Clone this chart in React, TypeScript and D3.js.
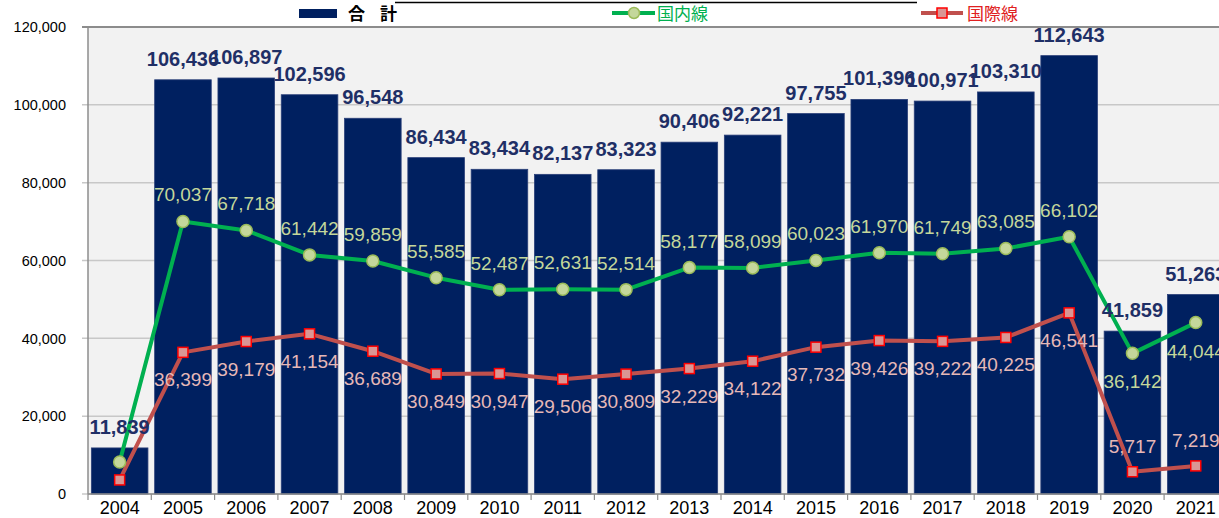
import React from "react";
import * as d3 from "d3";

const years = ["2004","2005","2006","2007","2008","2009","2010","2011","2012","2013","2014","2015","2016","2017","2018","2019","2020","2021"];
const totals = [11839,106436,106897,102596,96548,86434,83434,82137,83323,90406,92221,97755,101396,100971,103310,112643,41859,51263];
const domestic = [8226,70037,67718,61442,59859,55585,52487,52631,52514,58177,58099,60023,61970,61749,63085,66102,36142,44044];
const international = [3613,36399,39179,41154,36689,30849,30947,29506,30809,32229,34122,37732,39426,39222,40225,46541,5717,7219];
const yTicks = [0,20000,40000,60000,80000,100000,120000];
// label placement: "a" above, "b" below, "" none
const domPos = ["","a","a","a","a","a","a","a","a","a","a","a","a","a","a","a","b","b"];
const intPos = ["","b","b","b","b","b","b","b","b","b","b","b","b","b","b","b","a","a"];

const W = 1219, H = 518;
const left = 88, top = 27, bottom = 494;
const step = 63.3;

export default function App() {
  const x = d3.scaleBand<string>().domain(years).range([left, left + step * years.length]).paddingInner(0.106).paddingOuter(0.053);
  const y = d3.scaleLinear().domain([0, 120000]).range([bottom, top]);
  const fmt = d3.format(",");
  const cx = (i: number) => (x(years[i]) as number) + x.bandwidth() / 2;
  const lineGen = d3.line<number>().x((_, i) => cx(i)).y(d => y(d));
  const font = "'Liberation Sans', Arial, sans-serif";
  const jp = "'Noto Sans CJK JP', sans-serif";
  const boundaries = d3.range(years.length + 1).map(i => left + i * step);

  return (
    <svg width={W} height={H} style={{ position: "absolute", left: 0, top: 0, background: "#fff" }} fontFamily={font}>
      {/* title underline remnant */}
      <line x1={395} x2={917} y1={2.5} y2={2.5} stroke="#000" strokeWidth={1.5} />
      {/* plot background */}
      <rect x={left} y={top} width={W - left + 20} height={bottom - top} fill="#f2f2f2" />
      {yTicks.map(t => (
        <g key={t}>
          <line x1={left - 6} x2={W + 10} y1={y(t)} y2={y(t)} stroke={t === 120000 ? "#8c8c8c" : "#c8c8c8"} strokeWidth={t === 120000 ? 2 : 1.5} />
          <text x={66} y={y(t)} dy="0.36em" textAnchor="end" fontSize={14.5} fill="#000">{fmt(t)}</text>
        </g>
      ))}
      {/* bars */}
      {totals.map((v, i) => (
        <rect key={i} x={x(years[i])} y={y(v)} width={x.bandwidth()} height={bottom - y(v)} fill="#002060" stroke="#2a3f78" strokeWidth={0.8} />
      ))}
      {/* axes */}
      <line x1={left} x2={left} y1={top} y2={bottom} stroke="#8c8c8c" strokeWidth={1.5} />
      <line x1={left} x2={W + 10} y1={bottom} y2={bottom} stroke="#8c8c8c" strokeWidth={1.5} />
      {boundaries.map((b, i) => (
        <line key={i} x1={b} x2={b} y1={bottom} y2={bottom + 6} stroke="#8c8c8c" strokeWidth={1.2} />
      ))}
      {years.map((yr, i) => (
        <text key={yr} x={cx(i)} y={514} textAnchor="middle" fontSize={18} fill="#000">{yr}</text>
      ))}
      {/* lines */}
      <path d={lineGen(domestic) as string} fill="none" stroke="#00b050" strokeWidth={4} strokeLinejoin="round" />
      <path d={lineGen(international) as string} fill="none" stroke="#c0504d" strokeWidth={4} strokeLinejoin="round" />
      {domestic.map((v, i) => (
        <circle key={i} cx={cx(i)} cy={y(v)} r={6} fill="#c4d79b" stroke="#9bbb59" strokeWidth={1.5} />
      ))}
      {international.map((v, i) => (
        <rect key={i} x={cx(i) - 5} y={y(v) - 5} width={10} height={10} fill="#da9694" stroke="#ff0000" strokeWidth={1.5} />
      ))}
      {/* bar labels */}
      {totals.map((v, i) => (
        <text key={i} x={cx(i)} y={y(v) - 14} textAnchor="middle" fontSize={20} fontWeight="bold" fill="#1f2f66">{fmt(v)}</text>
      ))}
      {/* domestic labels */}
      {domestic.map((v, i) => domPos[i] ? (
        <text key={i} x={cx(i)} y={domPos[i] === "a" ? y(v) - 20 : y(v) + 35} textAnchor="middle" fontSize={19} fill="#c4d79b">{fmt(v)}</text>
      ) : null)}
      {/* international labels */}
      {international.map((v, i) => intPos[i] ? (
        <text key={i} x={cx(i)} y={intPos[i] === "a" ? y(v) - 19 : y(v) + 34} textAnchor="middle" fontSize={19} fill="#e6b8b7">{fmt(v)}</text>
      ) : null)}
      {/* legend */}
      <rect x={299} y={9} width={38} height={9} fill="#002060" />
      <text x={348} y={20} fontSize={17} fontWeight="bold" fill="#000" fontFamily={jp}>合</text>
      <text x={380} y={20} fontSize={17} fontWeight="bold" fill="#000" fontFamily={jp}>計</text>
      <line x1={612} x2={655} y1={13} y2={13} stroke="#00b050" strokeWidth={4} />
      <circle cx={634} cy={13} r={5.5} fill="#c4d79b" stroke="#9bbb59" strokeWidth={1.5} />
      <text x={657} y={20} fontSize={17} fill="#00b050" fontFamily={jp}>国内線</text>
      <line x1={921} x2={963} y1={13} y2={13} stroke="#c0504d" strokeWidth={4} />
      <rect x={937} y={8} width={10} height={10} fill="#da9694" stroke="#ff0000" strokeWidth={1.5} />
      <text x={967} y={20} fontSize={17} fill="#e02020" fontFamily={jp}>国際線</text>
    </svg>
  );
}
